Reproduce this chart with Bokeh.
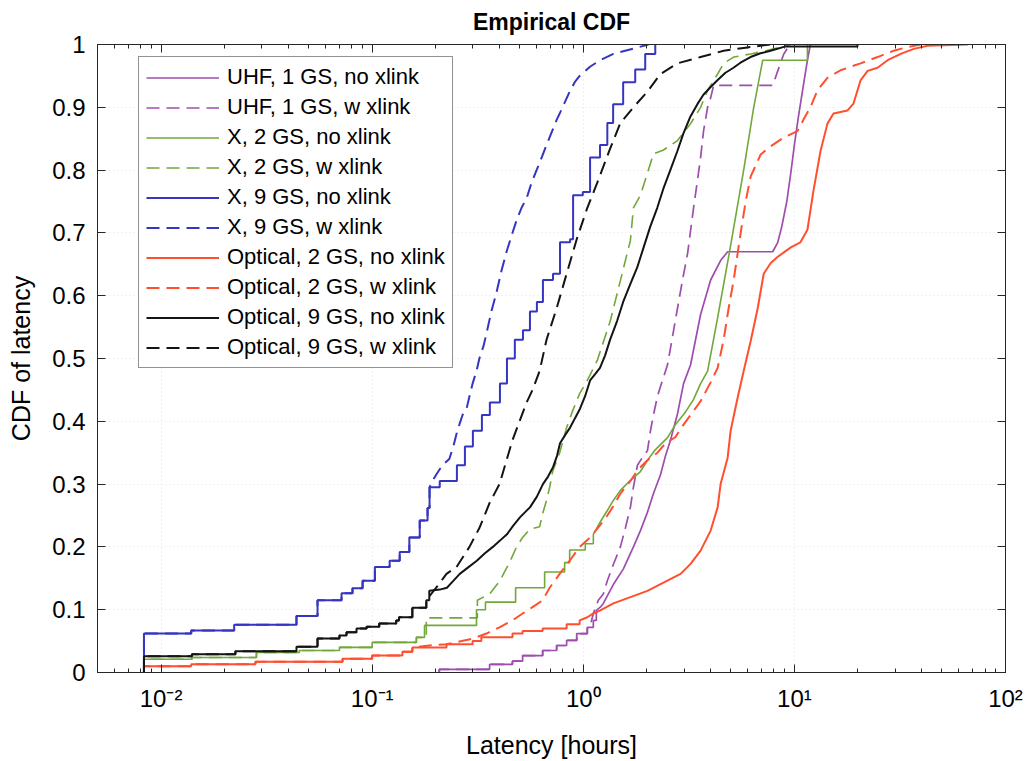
from bokeh.plotting import figure
from bokeh.models import (Range1d, LogAxis, LinearAxis, FixedTicker,
                          CustomJSTickFormatter, Legend, LegendItem)
from bokeh.embed import file_html
from bokeh.resources import INLINE

# ---------------------------------------------------------------------------
# Latency samples (hours) and CDF levels read for each configuration.
# "*_step_*" : low-latency part, drawn as a staircase (ECDF jumps)
# "*_trace_*": remaining part, where samples are dense, drawn as a polyline
# ---------------------------------------------------------------------------

# UHF, 1 ground station
uhf_no_step_h = [0.208, 0.360, 0.462, 0.516, 0.642, 0.748, 0.834, 0.931, 1.045, 1.116, 1.153]
uhf_no_step_p = [0.005, 0.013, 0.018, 0.027, 0.035, 0.043, 0.051, 0.062, 0.072, 0.083, 0.099]
uhf_no_trace_h = [1.204, 1.244, 1.388, 1.549, 1.728, 1.865, 2.013, 2.150, 2.321, 2.452,
                  2.589, 2.795, 2.985, 3.223, 3.595, 4.011, 4.472, 4.829, 7.896, 8.342,
                  8.714, 9.205, 9.614, 10.0, 10.45, 11.03, 11.53, 11.91]
uhf_no_trace_p = [0.104, 0.110, 0.14, 0.165, 0.20, 0.226, 0.255, 0.285, 0.315, 0.345,
                  0.37, 0.412, 0.46, 0.49, 0.57, 0.625, 0.656, 0.67, 0.67, 0.685,
                  0.71, 0.75, 0.795, 0.84, 0.885, 0.935, 0.975, 1.0]
uhf_w_trace_h = [1.080, 1.116, 1.178, 1.244, 1.300, 1.388, 1.499, 1.583, 1.672, 1.728,
                 1.805, 1.927, 2.013, 2.081, 2.150, 2.246, 2.372, 2.506, 2.647, 2.795,
                 2.952, 3.119, 3.330, 3.479, 3.595, 3.715, 3.881, 4.011, 4.145, 7.896,
                 8.342, 8.908, 9.306, 9.614]
uhf_w_trace_p = [0.075, 0.094, 0.115, 0.125, 0.146, 0.172, 0.20, 0.23, 0.263, 0.295,
                 0.33, 0.345, 0.353, 0.385, 0.41, 0.44, 0.465, 0.49, 0.535, 0.58,
                 0.625, 0.667, 0.74, 0.785, 0.82, 0.863, 0.90, 0.915, 0.935, 0.935,
                 0.958, 0.985, 0.995, 1.0]

# X band, 2 ground stations
x2_no_step_h = [0.0083, 0.0140, 0.0283, 0.0452, 0.0700, 0.100, 0.162, 0.177, 0.312, 0.344,
                0.478, 0.656, 0.816, 0.862, 1.022, 1.116]
x2_no_step_p = [0.021, 0.024, 0.032, 0.035, 0.040, 0.048, 0.056, 0.075, 0.100, 0.112,
                0.135, 0.160, 0.175, 0.195, 0.205, 0.22]
x2_no_trace_h = [1.204, 1.300, 1.388, 1.499, 1.672, 1.865, 2.013, 2.198, 2.506, 2.735,
                 3.051, 3.330, 3.595, 3.881, 4.330, 4.989, 5.751, 6.417, 7.079, 11.53, 11.53]
x2_no_trace_p = [0.24, 0.258, 0.274, 0.29, 0.306, 0.32, 0.338, 0.355, 0.374, 0.395,
                 0.415, 0.435, 0.46, 0.48, 0.565, 0.68, 0.80, 0.90, 0.975, 0.975, 1.0]
x2_w_step_h = [0.1805, 0.315]
x2_w_step_p = [0.087, 0.115]
x2_w_trace_h = [0.360, 0.401, 0.447, 0.483, 0.516, 0.557, 0.621, 0.642, 0.670, 0.693,
                0.716, 0.773, 0.834, 0.891, 0.961, 1.045, 1.165, 1.343, 1.499, 1.672,
                1.728, 1.865, 2.013, 2.150, 2.399, 2.795, 3.223, 3.595, 3.881, 4.330,
                4.623, 5.157, 6.209, 7.316, 9.614]
x2_w_trace_p = [0.125, 0.145, 0.175, 0.20, 0.215, 0.228, 0.232, 0.253, 0.274, 0.295,
                0.32, 0.35, 0.39, 0.417, 0.444, 0.465, 0.497, 0.56, 0.624, 0.688,
                0.74, 0.76, 0.795, 0.826, 0.832, 0.847, 0.874, 0.90, 0.927, 0.953,
                0.97, 0.98, 0.985, 0.99, 1.0]

# X band, 9 ground stations
x9_no_step_h = [0.0083, 0.0139, 0.0222, 0.0438, 0.0551, 0.0716, 0.0807, 0.0901, 0.103, 0.121,
                0.135, 0.150, 0.168, 0.183, 0.187, 0.209, 0.252, 0.275, 0.300, 0.331,
                0.361, 0.403, 0.435, 0.474, 0.518, 0.559, 0.603, 0.644, 0.719, 0.776,
                0.866, 0.895, 0.995, 1.077, 1.20, 1.30, 1.385, 1.545, 1.762, 1.965, 2.193]
x9_no_step_p = [0.062, 0.067, 0.076, 0.090, 0.115, 0.126, 0.134, 0.146, 0.168, 0.178,
                0.192, 0.215, 0.242, 0.262, 0.295, 0.305, 0.33, 0.36, 0.385, 0.41,
                0.43, 0.46, 0.50, 0.53, 0.545, 0.575, 0.59, 0.625, 0.635, 0.685,
                0.69, 0.76, 0.765, 0.82, 0.84, 0.875, 0.905, 0.94, 0.96, 0.985, 1.0]
x9_w_trace_h = [0.193, 0.201, 0.215, 0.232, 0.2425, 0.251, 0.259, 0.268, 0.280, 0.289,
                0.299, 0.312, 0.322, 0.337, 0.348, 0.367, 0.388, 0.410, 0.433, 0.457,
                0.483, 0.510, 0.539, 0.569, 0.601, 0.635, 0.670, 0.708, 0.748, 0.798,
                0.862, 0.911, 0.961, 1.080, 1.204, 1.388, 2.036]
x9_w_trace_p = [0.305, 0.315, 0.33, 0.34, 0.36, 0.38, 0.395, 0.41, 0.42, 0.44,
                0.46, 0.48, 0.50, 0.52, 0.54, 0.575, 0.605, 0.64, 0.67, 0.695,
                0.72, 0.74, 0.755, 0.78, 0.80, 0.82, 0.84, 0.86, 0.88, 0.90,
                0.925, 0.94, 0.95, 0.965, 0.975, 0.985, 1.0]

# Optical, 2 ground stations
opt2_no_step_h = [0.0083, 0.0139, 0.0280, 0.0724, 0.100, 0.139, 0.155, 0.225, 0.299, 0.329,
                  0.462, 0.516, 0.642, 0.834, 0.961]
opt2_no_step_p = [0.010, 0.013, 0.017, 0.022, 0.027, 0.033, 0.040, 0.045, 0.050, 0.056,
                  0.062, 0.066, 0.070, 0.077, 0.083]
opt2_no_trace_h = [1.045, 1.116, 1.204, 1.388, 1.672, 2.013, 2.399, 2.889, 3.223, 3.595,
                   4.011, 4.330, 4.472, 4.829, 4.989, 5.387, 5.751, 6.209, 6.703, 7.158,
                   7.725, 8.342, 9.614, 10.68, 11.53, 12.31, 13.29, 14.34, 15.32, 17.85,
                   19.06, 20.58, 22.22, 24.78, 27.65, 31.88, 36.75, 42.83, 66.30]
opt2_no_trace_p = [0.088, 0.094, 0.099, 0.11, 0.12, 0.13, 0.143, 0.157, 0.173, 0.194,
                   0.226, 0.263, 0.30, 0.342, 0.385, 0.438, 0.48, 0.528, 0.58, 0.635,
                   0.652, 0.662, 0.677, 0.685, 0.705, 0.767, 0.83, 0.874, 0.89, 0.895,
                   0.906, 0.943, 0.958, 0.963, 0.975, 0.985, 0.993, 0.998, 1.0]
opt2_w_trace_h = [0.1865, 0.225, 0.299, 0.348, 0.401, 0.462, 0.516, 0.575, 0.642, 0.693,
                  0.773, 0.862, 0.961, 1.080, 1.204, 1.300, 1.388, 1.499, 1.672, 1.805,
                  2.013, 2.246, 2.452, 2.735, 2.889, 3.223, 3.595, 4.011, 4.330, 4.623,
                  4.881, 5.157, 5.565, 5.878, 6.209, 6.926, 7.725, 8.908, 10.33, 11.03,
                  11.91, 12.86, 14.34, 16.54, 20.58, 24.78, 29.52, 34.41, 39.67]
opt2_w_trace_p = [0.043, 0.045, 0.054, 0.062, 0.072, 0.083, 0.094, 0.104, 0.115, 0.135,
                  0.157, 0.178, 0.20, 0.215, 0.235, 0.25, 0.265, 0.285, 0.305, 0.322,
                  0.338, 0.35, 0.365, 0.375, 0.388, 0.41, 0.432, 0.462, 0.485, 0.53,
                  0.58, 0.625, 0.70, 0.75, 0.79, 0.825, 0.838, 0.852, 0.862, 0.88,
                  0.90, 0.927, 0.947, 0.959, 0.97, 0.98, 0.99, 0.996, 1.0]

# Optical, 9 ground stations
opt9_no_step_h = [0.0083, 0.0140, 0.0225, 0.0438, 0.0551, 0.0700, 0.0756, 0.0843, 0.0941, 0.108,
                  0.130, 0.134, 0.155, 0.1805, 0.1865]
opt9_no_step_p = [0.026, 0.029, 0.034, 0.041, 0.054, 0.059, 0.064, 0.070, 0.073, 0.078,
                  0.083, 0.088, 0.103, 0.115, 0.130]
opt9_no_trace_h = [0.209, 0.226, 0.241, 0.260, 0.284, 0.313, 0.342, 0.373, 0.403, 0.435,
                   0.464, 0.501, 0.529, 0.559, 0.603, 0.644, 0.681, 0.719, 0.751, 0.776,
                   0.820, 0.866, 0.914, 0.965, 1.02, 1.077, 1.138, 1.20, 1.269, 1.340,
                   1.447, 1.545, 1.668, 1.801, 1.923, 2.076, 2.241, 2.393, 2.584, 2.789,
                   2.979, 3.215, 3.472, 3.707, 4.002, 4.318, 4.714, 5.146, 5.553, 6.195,
                   6.911, 7.708, 9.084, 19.9, 19.9]
opt9_no_trace_p = [0.132, 0.135, 0.145, 0.157, 0.167, 0.178, 0.19, 0.20, 0.21, 0.22,
                   0.233, 0.247, 0.255, 0.263, 0.28, 0.30, 0.312, 0.327, 0.345, 0.365,
                   0.378, 0.39, 0.405, 0.42, 0.44, 0.465, 0.475, 0.485, 0.505, 0.53,
                   0.56, 0.59, 0.618, 0.645, 0.675, 0.71, 0.74, 0.77, 0.80, 0.83,
                   0.858, 0.885, 0.905, 0.92, 0.932, 0.943, 0.955, 0.963, 0.971, 0.98,
                   0.986, 0.99, 0.997, 0.997, 1.0]
opt9_w_trace_h = [0.201, 0.225, 0.251, 0.289, 0.322, 0.360, 0.401, 0.433, 0.462, 0.499,
                  0.539, 0.575, 0.621, 0.670, 0.748, 0.834, 0.931, 1.045, 1.165, 1.343,
                  1.499, 1.728, 2.013, 2.321, 2.795, 3.595, 4.623, 5.878, 7.725]
opt9_w_trace_p = [0.135, 0.157, 0.168, 0.20, 0.23, 0.27, 0.30, 0.338, 0.37, 0.40,
                  0.43, 0.45, 0.48, 0.53, 0.58, 0.635, 0.69, 0.74, 0.78, 0.835,
                  0.875, 0.90, 0.925, 0.953, 0.97, 0.98, 0.99, 0.995, 1.0]

# axis ticks
x_major = [0.01, 0.1, 1, 10, 100]
y_major = [0.0, 0.1, 0.2, 0.3, 0.4, 0.5, 0.6, 0.7, 0.8, 0.9, 1.0]

# ---------------------------------------------------------------------------
FONT = "Liberation Sans"
AX = "#262626"
DASH = "13 7"
C_UHF = "#9E4DAF"
C_X2 = "#72A73A"
C_X9 = "#3535C2"
C_OPT2 = "#FF4F2E"
C_OPT9 = "#141414"


def stair_path(h, p):
    """Vertices of an empirical-CDF staircase starting from zero."""
    xs, ys, level = [], [], 0.0
    for hi, pi in zip(h, p):
        xs += [hi, hi]
        ys += [level, pi]
        level = pi
    return xs, ys


def curve(step_h, step_p, trace_h=(), trace_p=()):
    xs, ys = stair_path(step_h, step_p)
    return xs + list(trace_h), ys + list(trace_p)


curves = [
    ("UHF, 1 GS, no xlink",
     curve(uhf_no_step_h, uhf_no_step_p, uhf_no_trace_h, uhf_no_trace_p), C_UHF, "solid", 1.7),
    ("UHF, 1 GS, w xlink",
     curve(uhf_no_step_h[:9], uhf_no_step_p[:9], uhf_w_trace_h, uhf_w_trace_p), C_UHF, DASH, 1.7),
    ("X, 2 GS, no xlink",
     curve(x2_no_step_h, x2_no_step_p, x2_no_trace_h, x2_no_trace_p), C_X2, "solid", 1.6),
    ("X, 2 GS, w xlink",
     curve(x2_no_step_h[:7] + x2_w_step_h, x2_no_step_p[:7] + x2_w_step_p,
           x2_w_trace_h, x2_w_trace_p), C_X2, DASH, 1.6),
    ("X, 9 GS, no xlink",
     curve(x9_no_step_h, x9_no_step_p), C_X9, "solid", 2),
    ("X, 9 GS, w xlink",
     curve(x9_no_step_h[:15], x9_no_step_p[:15], x9_w_trace_h, x9_w_trace_p), C_X9, DASH, 2),
    ("Optical, 2 GS, no xlink",
     curve(opt2_no_step_h, opt2_no_step_p, opt2_no_trace_h, opt2_no_trace_p), C_OPT2, "solid", 2),
    ("Optical, 2 GS, w xlink",
     curve(opt2_no_step_h[:7], opt2_no_step_p[:7], opt2_w_trace_h, opt2_w_trace_p), C_OPT2, DASH, 2),
    ("Optical, 9 GS, no xlink",
     curve(opt9_no_step_h, opt9_no_step_p, opt9_no_trace_h, opt9_no_trace_p), C_OPT9, "solid", 2),
    ("Optical, 9 GS, w xlink",
     curve(opt9_no_step_h[:14], opt9_no_step_p[:14], opt9_w_trace_h, opt9_w_trace_p), C_OPT9, DASH, 2),
]

p = figure(width=1031, height=761, x_axis_type="log",
           x_range=Range1d(0.005, 100), y_range=Range1d(0, 1),
           output_backend="svg", toolbar_location=None,
           min_border_left=97, min_border_right=26,
           min_border_top=44, min_border_bottom=89)
p.background_fill_color = "white"
p.border_fill_color = "white"
p.outline_line_color = AX

p.title.text = "Empirical CDF"
p.title.align = "center"
p.title.vertical_align = "top"
p.title.text_font = FONT
p.title.text_font_size = "23px"
p.title.text_font_style = "bold"
p.title.text_color = "#000000"
p.title.standoff = 16

x_minor = [m * 10.0 ** e for e in range(-3, 2) for m in range(2, 10)
           if 0.005 <= m * 10.0 ** e <= 100]
x_ticker = FixedTicker(ticks=x_major, minor_ticks=x_minor)
y_ticker = FixedTicker(ticks=y_major)

sup = CustomJSTickFormatter(code="""
    const e = Math.round(Math.log10(tick));
    const s = {'-': '\u207b', '0': '\u2070', '1': '\u00b9', '2': '\u00b2', '3': '\u00b3'};
    return '10' + String(e).split('').map(c => s[c]).join('');
""")
yfmt = CustomJSTickFormatter(code="return String(Math.round(tick * 10) / 10);")
blank = CustomJSTickFormatter(code="return '';")


def style(ax, minor=True):
    ax.axis_line_color = AX
    ax.major_tick_line_color = AX
    ax.minor_tick_line_color = AX
    ax.major_tick_in = 8
    ax.major_tick_out = 0
    ax.minor_tick_in = 4 if minor else 0
    ax.minor_tick_out = 0
    ax.major_label_text_font = FONT
    ax.major_label_text_color = "#000000"
    ax.major_label_text_font_size = "24px"
    ax.major_label_standoff = 12


xb = p.below[0]
xb.ticker = x_ticker
xb.formatter = sup
style(xb)
xb.axis_label = "Latency [hours]"
xb.axis_label_text_font = FONT
xb.axis_label_text_font_size = "25px"
xb.axis_label_text_font_style = "normal"
xb.axis_label_text_color = "#000000"
xb.axis_label_standoff = 16

yl = p.left[0]
yl.ticker = y_ticker
yl.formatter = yfmt
style(yl, minor=False)
yl.axis_label = "CDF of latency"
yl.axis_label_text_font = FONT
yl.axis_label_text_font_size = "25px"
yl.axis_label_text_font_style = "normal"
yl.axis_label_text_color = "#000000"
yl.axis_label_standoff = 14

# box ticks on the top and right edges (no labels)
xt = LogAxis(ticker=x_ticker, formatter=blank)
style(xt)
xt.major_label_text_font_size = "1px"
xt.major_label_standoff = 0
p.add_layout(xt, "above")
yr = LinearAxis(ticker=y_ticker, formatter=blank)
style(yr, minor=False)
yr.major_label_text_font_size = "1px"
yr.major_label_standoff = 0
p.add_layout(yr, "right")

p.grid.grid_line_color = "#e2e2e2"
p.grid.grid_line_dash = "1 3"
p.grid.grid_line_width = 1

items = []
for label, (xs, ys), color, dash, lw in curves:
    r = p.line(xs, ys, line_color=color, line_width=lw, line_dash=dash)
    items.append(LegendItem(label=label, renderers=[r]))

legend = Legend(items=items, location=(41, 304))
legend.label_text_font = FONT
legend.label_text_font_size = "22px"
legend.label_text_color = "#000000"
legend.glyph_width = 73
legend.glyph_height = 23
legend.label_height = 23
legend.label_standoff = 8
legend.spacing = 4
legend.padding = 7
legend.border_line_color = AX
legend.border_line_width = 1
legend.background_fill_color = "white"
legend.background_fill_alpha = 1.0
p.add_layout(legend)

open("out.html", "w").write(file_html(p, INLINE))
